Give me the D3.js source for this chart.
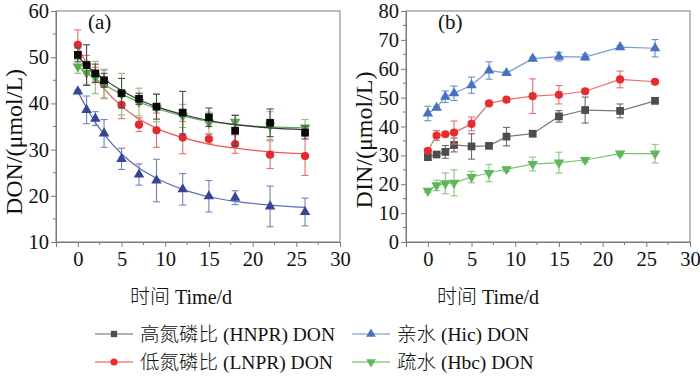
<!DOCTYPE html>
<html>
<head>
<meta charset="utf-8">
<script src="https://cdn.jsdelivr.net/npm/d3@7"></script>
<style>
  body { margin: 0; background: #fff; }
  svg text { font-family: "Liberation Serif", "Times New Roman", "Noto Sans CJK SC", serif; fill: #111; }
  .cjk { font-family: "Noto Sans CJK SC", sans-serif; font-weight: 300; }
</style>
</head>
<body>
<div id="chart"></div>
<script>
// sampling days
const days = [0, 1, 2, 3, 5, 7, 9, 12, 15, 18, 22, 26];

// panel (a) DON
const donHNPR    = [50.5, 48.3, 46.5, 45.0, 42.2, 41.0, 39.3, 38.0, 37.0, 34.1, 35.8, 33.7];
const donHNPRErr = [1.5, 4.4, 2.0, 1.5, 3.2, 1.2, 2.7, 4.6, 2.0, 3.3, 3.0, 1.4];
const donHNPRFit = [50.2, 48.2, 46.6, 45.2, 42.8, 40.8, 39.3, 37.6, 36.3, 35.4, 34.7, 34.3];
const donLNPR    = [52.7, 48.4, 46.3, 44.2, 39.7, 35.4, 34.2, 32.6, 32.3, 31.2, 28.9, 28.6];
const donLNPRErr = [3.2, 2.0, 1.5, 3.0, 3.0, 1.5, 3.7, 3.5, 1.0, 2.0, 3.0, 4.2];
const donLNPRFit = [52.4, 48.6, 45.6, 43.2, 39.4, 36.6, 34.6, 32.6, 31.2, 30.3, 29.5, 29.1];
const donHic     = [42.6, 38.6, 36.7, 33.5, 28.0, 24.6, 23.3, 21.4, 19.9, 19.6, 17.7, 16.5];
const donHicErr  = [0.3, 3.0, 1.5, 3.0, 2.3, 2.3, 4.6, 3.4, 3.4, 1.5, 4.4, 3.0];
const donHicFit  = [42.6, 39.0, 35.9, 33.3, 29.1, 26.0, 23.8, 21.4, 19.8, 18.8, 18.0, 17.5];
const donHbc     = [48.0, 46.6, 45.6, 44.2, 42.0, 40.3, 39.0, 37.3, 35.8, 36.0, 35.2, 34.8];
const donHbcErr  = [1.5, 2.5, 3.5, 3.2, 4.5, 3.0, 3.0, 2.5, 2.3, 1.5, 3.0, 1.7];
const donHbcFit  = [48.0, 46.6, 45.3, 44.1, 42.0, 40.3, 38.9, 37.3, 36.1, 35.4, 34.9, 34.7];

// panel (b) DIN
const dinHNPR    = [29.4, 30.3, 31.2, 33.6, 33.1, 33.3, 36.5, 37.5, 43.5, 45.7, 45.4, 48.9];
const dinHNPRErr = [1.0, 0.5, 2.2, 2.4, 4.4, 0.5, 3.2, 1.0, 2.0, 4.5, 2.4, 1.0];
const dinLNPR    = [31.6, 36.9, 37.3, 37.9, 40.9, 48.0, 49.3, 50.5, 51.0, 52.2, 56.3, 55.5];
const dinLNPRErr = [0.5, 1.7, 0.5, 4.0, 2.4, 0.5, 0.5, 6.0, 3.2, 0.8, 2.9, 0.5];
const dinHic     = [44.5, 46.5, 50.3, 51.5, 54.3, 59.4, 58.5, 63.5, 64.2, 64.0, 67.5, 67.1];
const dinHicErr  = [2.5, 0.5, 2.0, 2.5, 2.8, 3.0, 0.5, 0.5, 1.5, 1.0, 0.5, 3.0];
const dinHbc     = [17.7, 19.6, 20.3, 20.5, 22.5, 23.9, 25.2, 27.0, 27.5, 28.4, 30.6, 30.6];
const dinHbcErr  = [0.5, 1.8, 3.6, 4.5, 2.0, 3.0, 0.8, 2.4, 3.6, 0.8, 0.8, 3.2];

const xTicks = [0, 5, 10, 15, 20, 25, 30];
// legend labels: [Chinese part, latin part]
const legendLabels = [["高氮磷比", " (HNPR) DON"], ["低氮磷比", " (LNPR) DON"], ["亲水", " (Hic) DON"], ["疏水", " (Hbc) DON"]];
const xTitle = ["时间", " Time/d"];

const width = 700, height = 376;
const axisColor = "#7a7a7a";

const svg = d3.select("#chart").append("svg")
    .attr("width", width)
    .attr("height", height);

const symSquare = d3.symbol().type(d3.symbolSquare).size(60);
const symCircle = d3.symbol().type(d3.symbolCircle).size(52);
const symTri = d3.symbol().type(d3.symbolTriangle).size(48);

function mixedText(sel, parts) {
    sel.append("tspan").attr("class", "cjk").text(parts[0]);
    sel.append("tspan").text(parts[1]);
}

function drawPanel(opts) {
    const x = d3.scaleLinear().domain(opts.xDomain).range([opts.left, opts.right]);
    const y = d3.scaleLinear().domain(opts.yDomain).range([opts.bottom, opts.top]);
    const g = svg.append("g");

    // frame
    g.append("rect")
        .attr("x", opts.left).attr("y", opts.top)
        .attr("width", opts.right - opts.left).attr("height", opts.bottom - opts.top)
        .attr("fill", "none").attr("stroke", axisColor).attr("stroke-width", 1);

    // minor ticks
    const xMinor = d3.range(0, 30.1, 2.5).filter(v => v % 5 != 0);
    g.selectAll("line.xminor").data(xMinor).enter().append("line")
        .attr("x1", d => x(d)).attr("x2", d => x(d))
        .attr("y1", opts.bottom).attr("y2", opts.bottom + 3)
        .attr("stroke", axisColor);
    const yMinor = d3.range(opts.yDomain[0] + 5, opts.yDomain[1], 10);
    g.selectAll("line.yminor").data(yMinor).enter().append("line")
        .attr("x1", opts.left - 3).attr("x2", opts.left)
        .attr("y1", d => y(d)).attr("y2", d => y(d))
        .attr("stroke", axisColor);

    const xAxis = g.append("g")
        .attr("transform", "translate(0," + opts.bottom + ")")
        .call(d3.axisBottom(x).tickValues(xTicks).tickSize(5).tickPadding(4));
    const yAxis = g.append("g")
        .attr("transform", "translate(" + opts.left + ",0)")
        .call(d3.axisLeft(y).ticks(opts.yTicks).tickSize(5).tickPadding(2));
    [xAxis, yAxis].forEach(a => {
        a.select(".domain").attr("stroke", axisColor);
        a.selectAll(".tick line").attr("stroke", axisColor);
        a.selectAll(".tick text").attr("font-size", 20.5).attr("fill", "#111")
            .style("font-family", "Liberation Serif");
    });

    // y title
    g.append("text")
        .attr("transform", "translate(" + opts.yTitleX + "," + opts.yTitleY + ") rotate(-90)")
        .attr("text-anchor", "middle")
        .attr("font-size", 24)
        .text(opts.yTitle);

    // x title
    g.append("text")
        .attr("x", opts.xTitleX).attr("y", 304)
        .attr("font-size", 20)
        .call(mixedText, xTitle);

    // panel tag
    g.append("text")
        .attr("x", opts.left + 32).attr("y", 29)
        .attr("font-size", 21)
        .text(opts.tag);

    opts.series.forEach(s => {
        const pts = days.map((d, i) => ({ x: d, y: s.values[i], e: s.err[i] }));

        // connecting line or fitted curve
        const lineData = s.fit ? days.map((d, i) => ({ x: d, y: s.fit[i] })) : pts;
        g.append("path")
            .datum(lineData)
            .attr("fill", "none")
            .attr("stroke", s.line)
            .attr("stroke-width", 1.2)
            .attr("d", d3.line().x(d => x(d.x)).y(d => y(d.y))
                .curve(s.fit ? d3.curveMonotoneX : d3.curveLinear));

        // error bars
        const eb = g.append("g").attr("stroke", s.errColor).attr("stroke-width", 1.1);
        eb.selectAll("line.v").data(pts).enter().append("line")
            .attr("x1", d => x(d.x)).attr("x2", d => x(d.x))
            .attr("y1", d => y(d.y - d.e)).attr("y2", d => y(d.y + d.e));
        eb.selectAll("line.t").data(pts).enter().append("line")
            .attr("x1", d => x(d.x) - 3.5).attr("x2", d => x(d.x) + 3.5)
            .attr("y1", d => y(d.y + d.e)).attr("y2", d => y(d.y + d.e));
        eb.selectAll("line.b").data(pts).enter().append("line")
            .attr("x1", d => x(d.x) - 3.5).attr("x2", d => x(d.x) + 3.5)
            .attr("y1", d => y(d.y - d.e)).attr("y2", d => y(d.y - d.e));

        // markers
        g.selectAll(null).data(pts).enter().append("path")
            .attr("d", s.sym)
            .attr("fill", s.color)
            .attr("transform", d => "translate(" + x(d.x) + "," + y(d.y) + ")" + (s.down ? " rotate(180)" : ""));
    });
}

drawPanel({
    left: 56, right: 340, top: 11, bottom: 242,
    xDomain: [-2.5, 30], yDomain: [10, 60], yTicks: 5,
    yTitle: "DON/(μmol/L)", yTitleX: 22, yTitleY: 142, xTitleX: 130, tag: "(a)",
    series: [
        { values: donHic, err: donHicErr, fit: donHicFit, color: "#35459a", line: "#5e6cb8", errColor: "#7480c4", sym: symTri },
        { values: donLNPR, err: donLNPRErr, fit: donLNPRFit, color: "#e8262b", line: "#f05555", errColor: "#f06a6a", sym: symCircle },
        { values: donHbc, err: donHbcErr, fit: donHbcFit, color: "#56ad4a", line: "#5aaa50", errColor: "#86c47a", sym: symTri, down: true },
        { values: donHNPR, err: donHNPRErr, fit: donHNPRFit, color: "#0a0a0a", line: "#333333", errColor: "#4a4a4a", sym: symSquare }
    ]
});

drawPanel({
    left: 406, right: 690, top: 11, bottom: 242,
    xDomain: [-2.5, 30], yDomain: [0, 80], yTicks: 8,
    yTitle: "DIN/(μmol/L)", yTitleX: 372, yTitleY: 140, xTitleX: 437, tag: "(b)",
    series: [
        { values: dinHbc, err: dinHbcErr, color: "#5cb85a", line: "#79c46e", errColor: "#84c87a", sym: symTri, down: true },
        { values: dinHNPR, err: dinHNPRErr, color: "#4d4d4d", line: "#7a7a7a", errColor: "#6a6a6a", sym: symSquare },
        { values: dinLNPR, err: dinLNPRErr, color: "#ec2a2e", line: "#f26a6a", errColor: "#f26a6a", sym: symCircle },
        { values: dinHic, err: dinHicErr, color: "#4472c4", line: "#7a9ad6", errColor: "#6d8fd0", sym: symTri }
    ]
});

// legend
const legendItems = [
    { label: legendLabels[0], color: "#4d4d4d", line: "#9a9a9a", sym: symSquare, lx: 95, ly: 334 },
    { label: legendLabels[1], color: "#ec2a2e", line: "#f58080", sym: symCircle, lx: 95, ly: 362 },
    { label: legendLabels[2], color: "#4472c4", line: "#9ab0dc", sym: symTri, lx: 352, ly: 334 },
    { label: legendLabels[3], color: "#5cb85a", line: "#8ccc82", sym: symTri, down: true, lx: 352, ly: 362 }
];
const legend = svg.append("g");
legendItems.forEach(it => {
    legend.append("line")
        .attr("x1", it.lx).attr("x2", it.lx + 38)
        .attr("y1", it.ly).attr("y2", it.ly)
        .attr("stroke", it.line).attr("stroke-width", 1.5);
    legend.append("path")
        .attr("d", it.sym.size(40)())
        .attr("fill", it.color)
        .attr("transform", "translate(" + (it.lx + 19) + "," + it.ly + ")" + (it.down ? " rotate(180)" : ""));
    legend.append("text")
        .attr("x", it.lx + 45).attr("y", it.ly + 7)
        .attr("font-size", 19.5)
        .call(mixedText, it.label);
});
</script>
</body>
</html>
